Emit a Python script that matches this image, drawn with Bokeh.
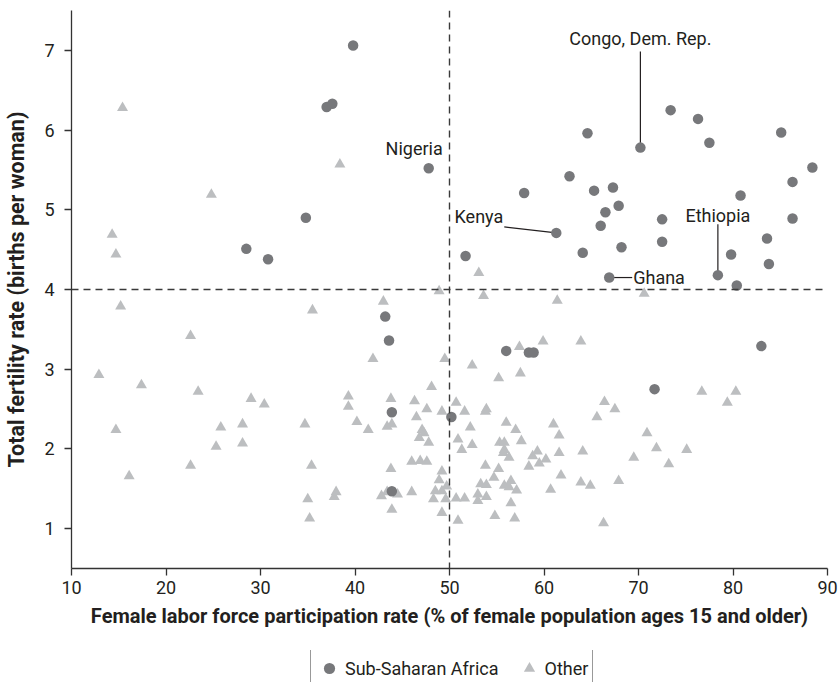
from bokeh.plotting import figure
from bokeh.layouts import column
from bokeh.models import Span, Legend, LegendItem, FixedTicker
from bokeh.core.properties import value
from bokeh.embed import file_html
from bokeh.resources import INLINE

# ---------------- data ----------------
# Sub-Saharan Africa: female labor force participation (%) and total fertility rate
SSA_LFP = [47.8, 70.2, 61.3, 66.9, 78.4,
           39.8, 37.0, 37.6, 34.8, 28.5, 30.8,
           73.4, 76.3, 77.5, 85.1, 88.4, 86.3, 80.8, 86.3, 64.6, 62.7, 57.9, 65.3,
           67.3, 67.9, 66.5, 66.0, 72.5, 72.5, 68.2, 64.1, 51.7, 83.6, 83.8, 79.8, 80.4,
           43.2, 43.6, 43.9, 43.9, 50.2, 56.0, 58.4, 58.9, 83.0, 71.7]
SSA_TFR = [5.52, 5.78, 4.71, 4.15, 4.18,
           7.06, 6.29, 6.33, 4.90, 4.51, 4.38,
           6.25, 6.14, 5.84, 5.97, 5.53, 5.35, 5.18, 4.89, 5.96, 5.42, 5.21, 5.24,
           5.28, 5.05, 4.97, 4.80, 4.88, 4.60, 4.53, 4.46, 4.42, 4.64, 4.32, 4.44, 4.05,
           3.66, 3.36, 2.46, 1.47, 2.40, 3.23, 3.21, 3.21, 3.29, 2.75]

# Other countries
OTHER_LFP = [15.4, 38.4, 24.8, 14.3, 14.7, 43.0, 48.9, 15.2, 35.5, 22.6,
             41.9, 49.5, 12.9, 17.4, 23.4, 48.1, 29.0, 30.4, 39.3, 39.3,
             43.8, 46.3, 47.6, 46.5, 49.2, 50.7, 14.7, 25.8, 28.1, 25.3,
             28.1, 34.7, 40.2, 41.4, 43.4, 43.9, 47.1, 47.3, 46.8, 47.8,
             46.0, 46.9, 47.6, 43.8, 50.9, 51.3, 22.6, 35.4, 16.1, 49.2,
             48.9, 35.0, 35.2, 38.0, 37.8, 42.8, 43.4, 44.5, 43.9, 46.0,
             48.5, 49.2, 49.7, 48.3, 49.6, 49.2, 50.7, 50.9,
             53.1, 53.6, 61.4, 70.6, 59.9, 63.9, 57.4, 52.4, 55.2, 57.5,
             76.7, 80.3, 79.4, 66.4, 67.5, 65.6, 51.6, 53.9, 53.8, 52.2,
             56.0, 57.0, 61.0, 61.6, 70.9, 52.4, 55.3, 55.8, 55.8, 55.7,
             56.3, 57.6, 61.6, 64.1, 71.9, 75.1, 73.2, 69.5, 58.8, 59.3,
             60.2, 59.5, 58.4, 53.8, 55.2, 54.7, 53.3, 53.9, 55.8, 56.3,
             56.5, 57.1, 61.8, 63.9, 64.9, 67.9, 60.7, 53.0, 53.0, 53.9,
             51.6, 56.5, 54.8, 56.9, 66.3]
OTHER_TFR = [6.28, 5.57, 5.19, 4.69, 4.44, 3.85, 3.98, 3.79, 3.74, 3.42,
             3.13, 3.13, 2.93, 2.80, 2.72, 2.78, 2.63, 2.56, 2.66, 2.53,
             2.63, 2.60, 2.50, 2.40, 2.47, 2.58, 2.24, 2.27, 2.31, 2.03,
             2.07, 2.31, 2.34, 2.24, 2.28, 2.31, 2.24, 2.20, 2.14, 2.08,
             1.84, 1.85, 1.84, 1.75, 2.12, 1.99, 1.79, 1.79, 1.66, 1.72,
             1.61, 1.37, 1.13, 1.46, 1.40, 1.41, 1.46, 1.43, 1.24, 1.46,
             1.47, 1.47, 1.53, 1.37, 1.37, 1.20, 1.38, 1.10,
             4.21, 3.92, 3.86, 3.95, 3.35, 3.35, 3.28, 3.05, 2.89, 2.95,
             2.72, 2.72, 2.58, 2.59, 2.50, 2.40, 2.47, 2.50, 2.47, 2.27,
             2.33, 2.24, 2.31, 2.17, 2.20, 2.05, 2.08, 2.08, 1.99, 1.95,
             1.89, 2.10, 1.95, 1.97, 2.01, 1.99, 1.81, 1.89, 1.91, 1.97,
             1.87, 1.82, 1.78, 1.79, 1.75, 1.64, 1.56, 1.55, 1.54, 1.52,
             1.60, 1.48, 1.67, 1.58, 1.54, 1.60, 1.49, 1.43, 1.35, 1.40,
             1.38, 1.32, 1.16, 1.13, 1.07]

X_TICKS = [10, 20, 30, 40, 50, 60, 70, 80, 90]
Y_TICKS = [1, 2, 3, 4, 5, 6, 7]
X_RANGE = (10, 90)
Y_RANGE = (0.5, 7.5)
LFP_THRESHOLD = 50
TFR_THRESHOLD = 4

SERIES_NAMES = ["Sub-Saharan Africa", "Other"]
LABEL_NAMES = ["Nigeria", "Congo, Dem. Rep.", "Kenya", "Ghana", "Ethiopia"]
LABEL_INDEX = [0, 1, 2, 3, 4]  # positions in the SSA arrays

# ---------------- style ----------------
FONT = "Roboto"
TEXT_COLOR = "#231f20"
SSA_COLOR = "#77787b"
OTHER_COLOR = "#bcbec0"
W, H = 840, 650
LEG_H = 32
LEFT, RIGHT, TOP, BOTTOM = 71, 13, 10, 82
FRAME_W = W - LEFT - RIGHT
FRAME_H = H - TOP - BOTTOM

# label layout in screen pixels (dx right, dy down) relative to the point
LABEL_LAYOUT = {
    "Nigeria": dict(align="right", dx=14, dy=-20, line=None),
    "Congo, Dem. Rep.": dict(align="center", dx=0, dy=-109, line=(0, -96)),
    "Kenya": dict(align="right", dx=-53, dy=-16, line=(-52, -6)),
    "Ghana": dict(align="left", dx=24, dy=0, line=(23, 0)),
    "Ethiopia": dict(align="center", dx=0, dy=-60, line=(0, -51)),
}

p = figure(width=W, height=H, output_backend="svg", toolbar_location=None,
           x_range=X_RANGE, y_range=Y_RANGE,
           min_border_left=LEFT, min_border_right=RIGHT,
           min_border_top=TOP, min_border_bottom=BOTTOM)
p.outline_line_color = None
p.grid.visible = False
p.background_fill_color = "white"
p.border_fill_color = "white"

for ax in (p.xaxis[0], p.yaxis[0]):
    ax.axis_line_color = "#333333"
    ax.axis_line_width = 1.3
    ax.major_tick_line_color = "#333333"
    ax.major_tick_line_width = 1.3
    ax.major_tick_in = 0
    ax.major_tick_out = 7
    ax.minor_tick_line_color = None
    ax.major_label_text_font = FONT
    ax.major_label_text_font_size = "18px"
    ax.major_label_text_color = TEXT_COLOR
    ax.axis_label_text_font = FONT
    ax.axis_label_text_font_style = "bold"
    ax.axis_label_text_color = TEXT_COLOR

p.xaxis.axis_label_text_font_size = "20px"
p.yaxis.axis_label_text_font_size = "21.5px"
p.xaxis.ticker = FixedTicker(ticks=X_TICKS)
p.yaxis.ticker = FixedTicker(ticks=Y_TICKS)
p.xaxis.axis_label = "Female labor force participation rate (% of female population ages 15 and older)"
p.yaxis.axis_label = "Total fertility rate (births per woman)"
p.xaxis.major_label_standoff = 5
p.xaxis.axis_label_standoff = 7
p.yaxis.major_label_standoff = 10
p.yaxis.axis_label_standoff = 12

# threshold lines
for loc, dim in ((LFP_THRESHOLD, "height"), (TFR_THRESHOLD, "width")):
    p.add_layout(Span(location=loc, dimension=dim, line_color="#3a3a3a",
                      line_width=1.4, line_dash="7 5"))

r_other = p.scatter(OTHER_LFP, OTHER_TFR, marker="triangle", size=11,
                    fill_color=OTHER_COLOR, line_color=None)

# leader lines
px_x = FRAME_W / (X_RANGE[1] - X_RANGE[0])
px_y = FRAME_H / (Y_RANGE[1] - Y_RANGE[0])
for name, idx in zip(LABEL_NAMES, LABEL_INDEX):
    lay = LABEL_LAYOUT[name]
    x0, y0 = SSA_LFP[idx], SSA_TFR[idx]
    if lay["line"] is not None:
        lx, ly = lay["line"]
        p.segment(x0=[x0], y0=[y0], x1=[x0 + lx / px_x], y1=[y0 - ly / px_y],
                  line_color="#231f20", line_width=1.2)

r_ssa = p.scatter(SSA_LFP, SSA_TFR, marker="circle", size=10.5,
                  fill_color=SSA_COLOR, line_color=None)

for name, idx in zip(LABEL_NAMES, LABEL_INDEX):
    lay = LABEL_LAYOUT[name]
    p.text(x=[SSA_LFP[idx]], y=[SSA_TFR[idx]], text=[name],
           x_offset=lay["dx"], y_offset=lay["dy"],
           text_align=lay["align"], text_baseline="middle",
           text_font=value(FONT), text_font_size="18px", text_color=TEXT_COLOR)

# ---------------- legend strip ----------------
# swatch renderers sit outside the strip's visible range; only their legend glyphs show
lg = figure(width=W, height=LEG_H, output_backend="svg", toolbar_location=None,
            x_range=(0, 1), y_range=(0, 1),
            x_axis_location=None, y_axis_location=None,
            min_border_left=0, min_border_right=0, min_border_top=0, min_border_bottom=0)
lg.outline_line_color = None
lg.grid.visible = False
lg_ssa = lg.scatter(x=[-5], y=[-5], marker="circle", size=11,
                    fill_color=SSA_COLOR, line_color=None)
lg_other = lg.scatter(x=[-5], y=[-5], marker="triangle", size=11,
                      fill_color=OTHER_COLOR, line_color=None)
legend = Legend(items=[LegendItem(label=SERIES_NAMES[0], renderers=[lg_ssa]),
                       LegendItem(label=SERIES_NAMES[1], renderers=[lg_other])],
                orientation="horizontal", location=(239, -5),
                label_text_font=FONT, label_text_font_size="18px",
                label_text_color=TEXT_COLOR, label_height=28,
                glyph_width=28, glyph_height=28, label_standoff=2,
                spacing=16, padding=4, margin=0,
                border_line_color="#333333", border_line_width=1.2,
                background_fill_color="white", background_fill_alpha=1.0)
lg.add_layout(legend, "center")

layout = column(p, lg, spacing=0)
open("out.html", "w").write(file_html(layout, INLINE))
